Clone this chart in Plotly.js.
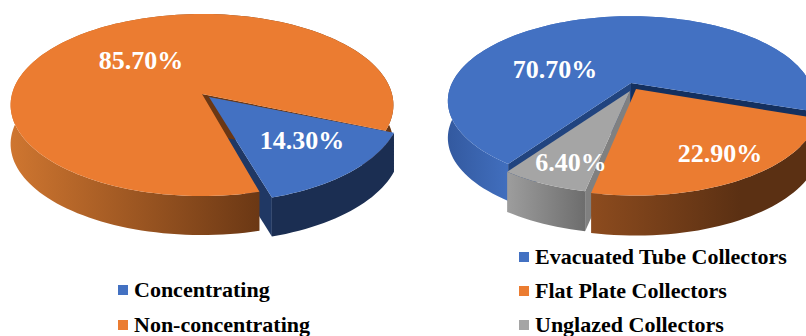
<!DOCTYPE html>
<html>
<head>
<meta charset="utf-8">
<script src="https://cdn.plot.ly/plotly-3.0.1.min.js"></script>
<style>html,body{margin:0;padding:0;background:#fff}</style>
</head>
<body>
<div id="chart" style="width:806px;height:336px"></div>
<script>
// Solar collector shares, in percent
const typeCategories = ['Concentrating', 'Non-concentrating'];
const typeValues = [14.3, 85.7];
const collectorCategories = ['Evacuated Tube Collectors', 'Flat Plate Collectors', 'Unglazed Collectors'];
const collectorValues = [70.7, 22.9, 6.4];

const FONT = '"Liberation Serif", "Times New Roman", serif';
const BLUE = '#4371c2', ORANGE = '#eb7c31', GREY = '#a5a5a5';

// Perspective projection of a tilted disc: angle in degrees, clockwise from 3 o'clock
function rim(s, deg) {
  const r = deg * Math.PI / 180, c = Math.cos(r), d = Math.sin(r), w = 1 - s.k * d;
  return [s.ax + s.A * c / w, s.ay + s.B * d / w];
}
function arc(s, a0, a1) {
  const pts = [], n = Math.ceil(Math.abs(a1 - a0) / 2);
  for (let i = 0; i <= n; i++) pts.push(rim(s, a0 + (a1 - a0) * i / n));
  return pts;
}
function poly(pts, fill) {
  const t = {
    type: 'scatter', mode: 'none', fill: 'toself', hoverinfo: 'skip', showlegend: false,
    x: pts.map(p => p[0]).concat([pts[0][0]]), y: pts.map(p => p[1]).concat([pts[0][1]])
  };
  if (typeof fill === 'string') t.fillcolor = fill;
  else t.fillgradient = { type: 'horizontal', colorscale: [[0, fill.from], [1, fill.to]], start: fill.x0, stop: fill.x1 };
  return t;
}
const top_ = (s, a0, a1, c) => poly([[s.ax, s.ay]].concat(arc(s, a0, a1)), c);
const wall = (s, a0, a1, c) => {
  const upper = arc(s, a0, a1);
  return poly(upper.concat(upper.slice().reverse().map(p => [p[0], p[1] + s.d])), c);
};
const face = (s, a, c) => {
  const e = rim(s, a);
  return poly([[s.ax, s.ay], e, [e[0], e[1] + s.d], [s.ax, s.ay + s.d]], c);
};
const shareSweep = v => v / 100 * 360;

// Left disc: the concentrating slice is pulled out towards the front right
const concStart = 21.5;
const concEnd = concStart + shareSweep(typeValues[0]);
const noncStart = 74.5;
const noncEnd = noncStart + shareSweep(typeValues[1]);
const conc = { ax: 209, ay: 97, A: 190, B: 93, k: 0.121, d: 39 };
const nonc = { ax: 202, ay: 94, A: 190, B: 89.7, k: 0.121, d: 39 };

// Right disc: three slices, each slightly apart; the tube slice wraps over the back
const tubeStart = 124.5;
const tubeEnd = tubeStart + shareSweep(collectorValues[0]);
const plateStart = tubeEnd - 360;
const plateEnd = plateStart + shareSweep(collectorValues[1]);
const glazeEnd = plateEnd + shareSweep(collectorValues[2]);
const evac = { ax: 631, ay: 83, A: 179, B: 81, k: 0.212, d: 37 };
const flat = { ax: 636, ay: 89, A: 179, B: 84, k: 0.212, d: 40 };
const ungl = { ax: 630, ay: 91, A: 179, B: 81, k: 0.212, d: 40 };

const traces = [
  face(conc, concEnd, '#203864'),
  wall(nonc, noncStart, noncEnd, { from: '#cf7630', to: '#6a3714', x0: 10, x1: 262 }),
  face(nonc, noncEnd, '#6a3714'),
  top_(nonc, noncStart, noncEnd, ORANGE),
  wall(conc, concStart, concEnd, '#1b2e52'),
  top_(conc, concStart, concEnd, BLUE),

  wall(evac, tubeStart, tubeEnd, { from: '#33599f', to: '#4270c0', x0: 447, x1: 512 }),
  face(evac, tubeStart, '#21447f'),
  face(evac, tubeEnd, '#14305f'),
  top_(evac, tubeStart, tubeEnd, BLUE),

  face(ungl, plateEnd, '#808080'),
  wall(ungl, plateEnd, glazeEnd, { from: '#9c9c9c', to: '#6c6c6c', x0: 509, x1: 587 }),
  top_(ungl, plateEnd, glazeEnd, GREY),

  wall(flat, plateStart, plateEnd, { from: '#5b3013', to: '#8c4b1e', x0: 740, x1: 593 }),
  top_(flat, plateStart, plateEnd, ORANGE)
];

// Percentage labels on the slices
const pct = v => v.toFixed(2) + '%';
traces.push({
  type: 'scatter', mode: 'text', hoverinfo: 'skip', showlegend: false,
  x: [141, 302, 555, 720, 571],
  y: [62.5, 142.5, 71.5, 155.5, 164.5],
  text: [typeValues[1], typeValues[0], collectorValues[0], collectorValues[1], collectorValues[2]].map(pct),
  textposition: 'middle center',
  textfont: { family: FONT, size: 26, color: '#ffffff', weight: 700 }
});

// Legend rows: a coloured square followed by the category name
function legendRows(names, colors, x, ys) {
  traces.push({
    type: 'scatter', mode: 'markers', hoverinfo: 'skip', showlegend: false,
    x: names.map(() => x), y: ys,
    marker: { symbol: 'square', size: 10, color: colors }
  });
  traces.push({
    type: 'scatter', mode: 'text', hoverinfo: 'skip', showlegend: false,
    x: names.map(() => x + 11), y: ys.map(v => v + 1), text: names,
    textposition: 'middle right',
    textfont: { family: FONT, size: 22, color: '#000000', weight: 700 }
  });
}
legendRows(typeCategories, [BLUE, ORANGE], 123, [290, 325]);
legendRows(collectorCategories, [BLUE, ORANGE, GREY], 524, [257, 291, 325]);

Plotly.newPlot('chart', traces, {
  width: 806, height: 336,
  margin: { l: 0, r: 0, t: 0, b: 0 },
  paper_bgcolor: '#ffffff', plot_bgcolor: '#ffffff',
  xaxis: { range: [0, 806], visible: false, fixedrange: true },
  yaxis: { range: [336, 0], visible: false, fixedrange: true },
  showlegend: false
}, { displayModeBar: false, staticPlot: true });
</script>
</body>
</html>
